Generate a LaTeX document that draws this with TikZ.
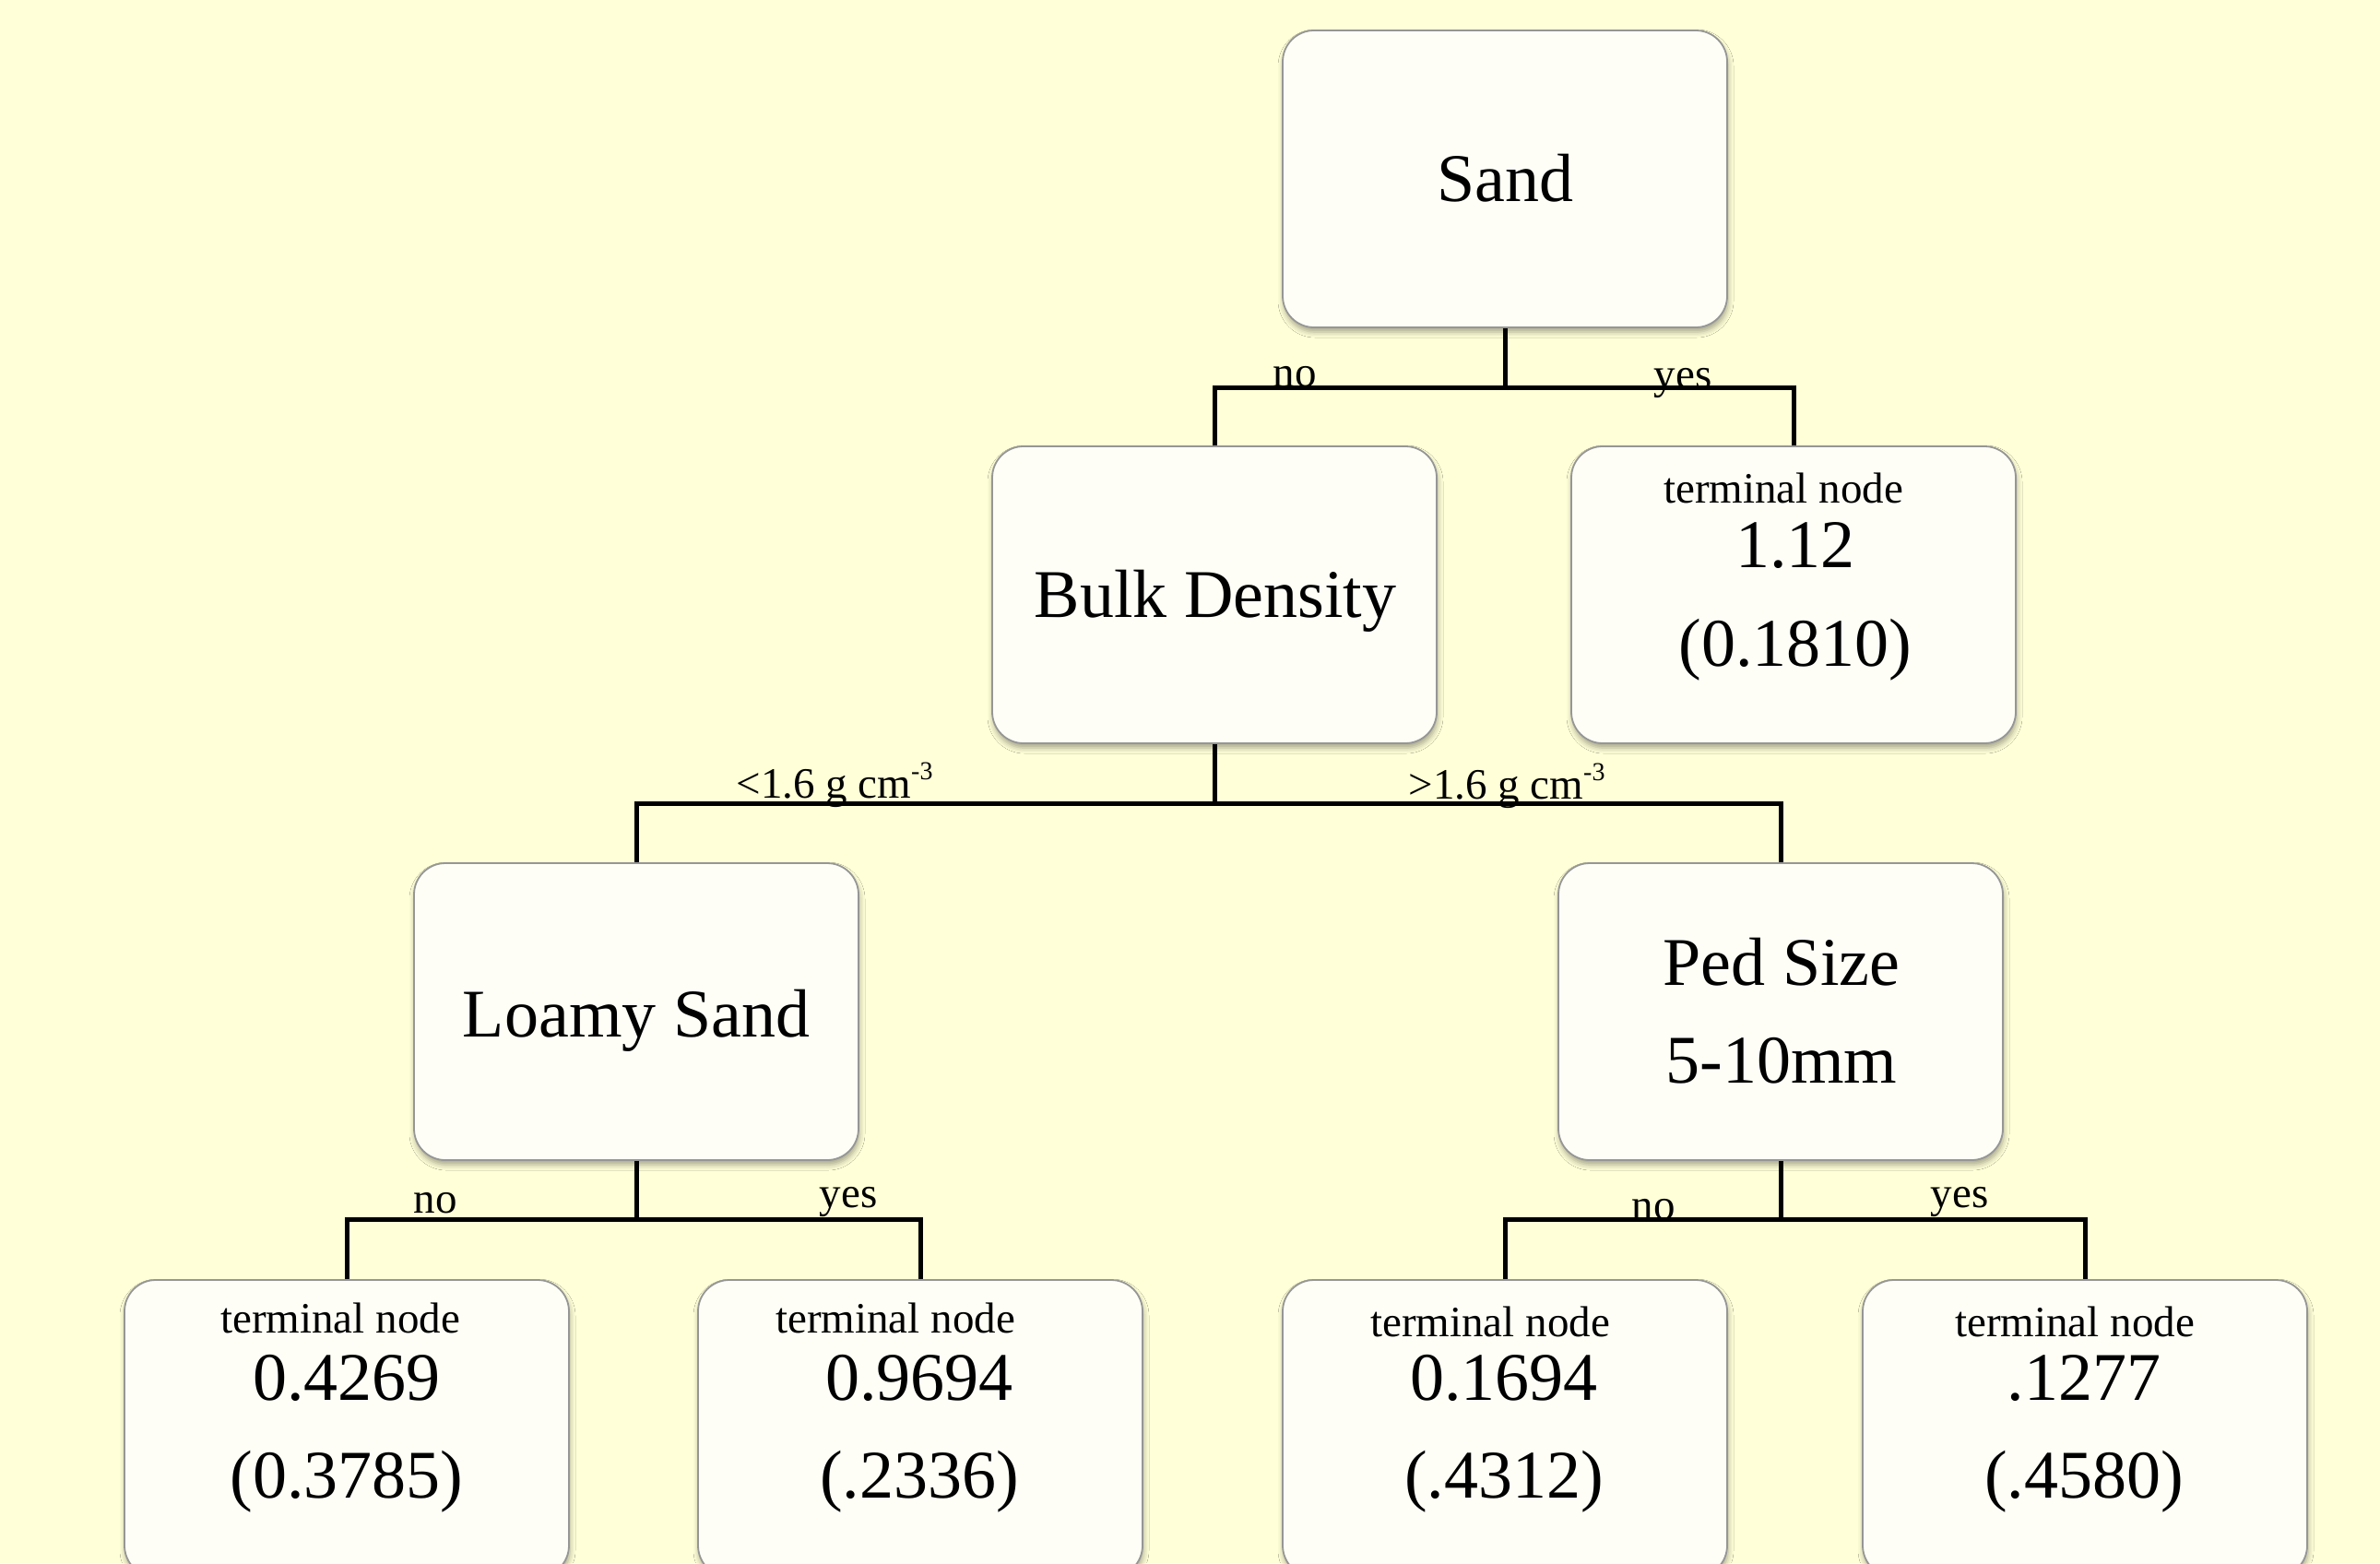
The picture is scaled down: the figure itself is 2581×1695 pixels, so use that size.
\documentclass[tikz,border=0pt]{standalone}
\usepackage{fontspec}
\setmainfont{Liberation Serif}
\usetikzlibrary{shadows.blur}
\definecolor{bgc}{RGB}{255,255,216}
\definecolor{boxfill}{RGB}{254,254,247}
\definecolor{boxline}{RGB}{150,150,150}
\tikzset{
  box/.style={draw=boxline, line width=1.8pt, fill=boxfill, rounded corners=34pt,
    minimum width=482pt, minimum height=322pt, inner sep=0pt,
    blur shadow={shadow xshift=1pt, shadow yshift=-5pt, shadow blur radius=6pt, shadow opacity=35}},
  big/.style={font=\fontsize{74}{80}\selectfont, anchor=base, inner sep=0pt},
  small/.style={font=\fontsize{47}{52}\selectfont, anchor=base, inner sep=0pt},
  conn/.style={line width=5pt, line join=miter, line cap=butt},
  supx/.style={}
}
\newcommand{\mysup}[1]{\raisebox{0.42em}{\fontsize{28}{30}\selectfont #1}}
\begin{document}
\begin{tikzpicture}[x=1pt,y=-1pt]
\useasboundingbox (0,0) rectangle (2581,1695);
\clip (0,0) rectangle (2581,1695);
\fill[bgc] (0,0) rectangle (2581,1695);

% boxes
\node[box] (sand)  at (1632,194) {};
\node[box] (bulk)  at (1317,645) {};
\node[box] (t1)    at (1945,645) {};
\node[box] (loamy) at (690,1097) {};
\node[box] (ped)   at (1931,1097) {};
\node[box] (b1)    at (376,1549) {};
\node[box] (b2)    at (998,1549) {};
\node[box] (b3)    at (1632,1549) {};
\node[box] (b4)    at (2261,1549) {};

% box texts
\node[big] (sandt)  at (1632,218) {Sand};
\node[big] (bulkt)  at (1318,669) {Bulk Density};
\node[big] (loamyt) at (690,1124) {Loamy Sand};
\node[big] (pedt1)  at (1932,1068) {Ped Size};
\node[big] (pedt2)  at (1932,1174) {5-10mm};

\node[small] (t1a) at (1934,545) {terminal node};
\node[big]   (t1b) at (1947,615) {1.12};
\node[big]   (t1c) at (1947,722) {(0.1810)};

\node[small] (b1a) at (369,1445) {terminal node};
\node[big]   (b1b) at (376,1518) {0.4269};
\node[big]   (b1c) at (376,1624) {(0.3785)};

\node[small] (b2a) at (971,1445) {terminal node};
\node[big]   (b2b) at (997,1518) {0.9694};
\node[big]   (b2c) at (997,1624) {(.2336)};

\node[small] (b3a) at (1616,1449) {terminal node};
\node[big]   (b3b) at (1631,1518) {0.1694};
\node[big]   (b3c) at (1631,1624) {(.4312)};

\node[small] (b4a) at (2250,1449) {terminal node};
\node[big]   (b4b) at (2260,1518) {.1277};
\node[big]   (b4c) at (2260,1624) {(.4580)};

% junctions
\coordinate (j1) at (1632,420);
\coordinate (j2) at (1317,871);
\coordinate (j3) at (690,1322);
\coordinate (j4) at (1931,1322);

% connectors
\draw[conn] (sand.south) -- (j1);
\draw[conn] (bulk.north) |- (j1) -| (t1.north);
\draw[conn] (bulk.south) -- (j2);
\draw[conn] (loamy.north) |- (j2) -| (ped.north);
\draw[conn] (loamy.south) -- (j3);
\draw[conn] (b1.north) |- (j3) -| (b2.north);
\draw[conn] (ped.south) -- (j4);
\draw[conn] (b3.north) |- (j4) -| (b4.north);

% edge labels
\node[small] (l1) at (1404,419) {no};
\node[small] (l2) at (1825,421) {yes};
\node[small] (l3) at (905,865) {<1.6 g cm\mysup{-3}};
\node[small] (l4) at (1634,866) {>1.6 g cm\mysup{-3}};
\node[small] (l5) at (472,1315) {no};
\node[small] (l6) at (920,1309) {yes};
\node[small] (l7) at (1793,1322) {no};
\node[small] (l8) at (2125,1309) {yes};
\end{tikzpicture}
\end{document}
